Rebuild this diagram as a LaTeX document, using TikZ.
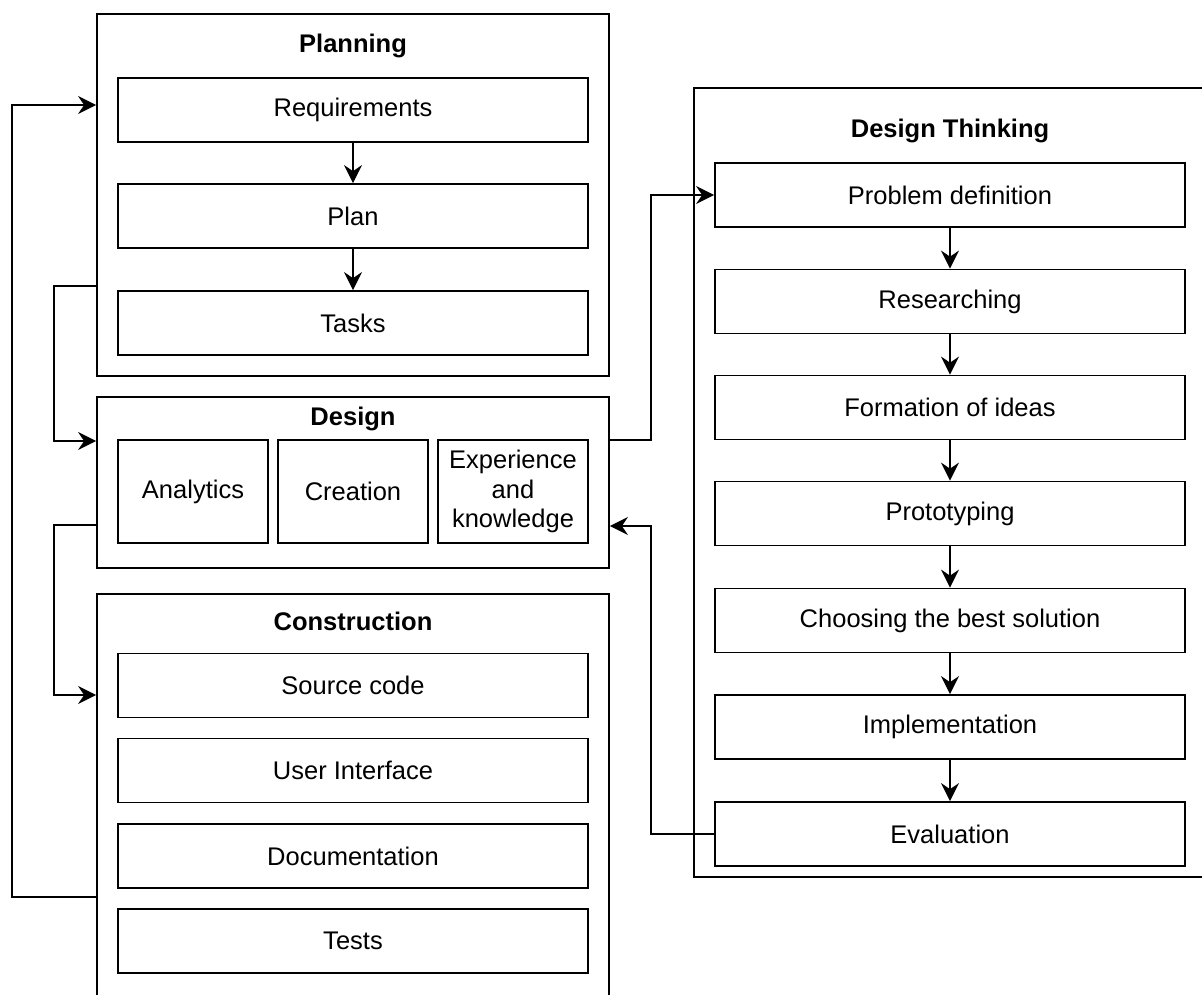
\documentclass[tikz,border=0pt]{standalone}
\usepackage{fontspec}
\setmainfont{Liberation Sans}
\usetikzlibrary{arrows.meta,calc}
\begin{document}
\begin{tikzpicture}[x=1pt,y=-1pt,
  bx/.style={draw,line width=1.8pt,inner sep=0pt,align=center,
    font=\fontsize{25.5}{29.5}\selectfont},
  outerbox/.style={draw,line width=1.8pt,inner sep=0pt},
  ttl/.style={font=\fontsize{25.5}{29.5}\selectfont\bfseries,inner sep=0pt},
  arr/.style={line width=1.6pt,-{Stealth[length=18pt,width=18pt,inset=6pt]}},
  wide/.style={minimum width=470pt,minimum height=64pt},
  small/.style={minimum width=150pt,minimum height=103pt}]
\clip (0,0) rectangle (1202,994);
\fill[white] (0,0) rectangle (1202,994);
% Planning
\node[outerbox,minimum width=512pt,minimum height=362pt] (planning) at (353,195) {};
\node[ttl] (tplanning) at (353,46) {Planning};
\node[bx,wide] (req) at (353,110) {Requirements};
\node[bx,wide] (plan) at (353,216) {Plan};
\node[bx,wide] (tasks) at (353,323) {Tasks};
% Design
\node[outerbox,minimum width=512pt,minimum height=171pt] (design) at (353,482.5) {};
\node[ttl] (tdesign) at (353,419) {Design};
\node[bx,small] (anal) at (193,491.5) {Analytics};
\node[bx,small] (crea) at (353,491.5) {Creation};
\node[bx,small] (exp) at (513,491.5) {Experience\\and\\knowledge};
% Construction
\node[outerbox,minimum width=512pt,minimum height=416pt] (constr) at (353,802) {};
\node[ttl] (tconstr) at (353,621) {Construction};
\node[bx,wide] (src) at (353,685.5) {Source code};
\node[bx,wide] (ui) at (353,770.5) {User Interface};
\node[bx,wide] (doc) at (353,856) {Documentation};
\node[bx,wide] (tests) at (353,941) {Tests};
% Design Thinking
\node[outerbox,minimum width=516pt,minimum height=789pt] (dt) at (952,482.5) {};
\node[ttl] (tdt) at (950,131) {Design Thinking};
\node[bx,wide] (prob) at (950,195) {Problem definition};
\node[bx,wide] (res) at (950,301.5) {Researching};
\node[bx,wide] (form) at (950,407.5) {Formation of ideas};
\node[bx,wide] (proto) at (950,513.5) {Prototyping};
\node[bx,wide] (choose) at (950,620.5) {Choosing the best solution};
\node[bx,wide] (impl) at (950,727) {Implementation};
\node[bx,wide] (eval) at (950,834) {Evaluation};
% vertical arrows
\draw[arr] (req) -- (plan);
\draw[arr] (plan) -- (tasks);
\draw[arr] (prob) -- (res);
\draw[arr] (res) -- (form);
\draw[arr] (form) -- (proto);
\draw[arr] (proto) -- (choose);
\draw[arr] (choose) -- (impl);
\draw[arr] (impl) -- (eval);
% loops
\coordinate (l1) at (12,897);
\coordinate (l2) at (54,286);
\coordinate (l3) at (54,525);
\coordinate (r1) at (651,440);
\coordinate (r2) at (651,834);
\draw[arr] (constr.west |- l1) -- (l1) |- (planning.west |- 0,105);
\draw[arr] (planning.west |- l2) -- (l2) |- (design.west |- 0,441);
\draw[arr] (design.west |- l3) -- (l3) |- (constr.west |- 0,695);
\draw[arr] (design.east |- r1) -- (r1) |- (prob.west);
\draw[arr] (eval.west) -- (r2) |- (design.east |- 0,526);
\end{tikzpicture}
\end{document}
